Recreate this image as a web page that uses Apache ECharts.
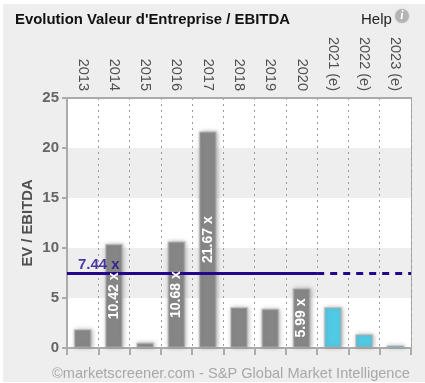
<!DOCTYPE html>
<html><head><meta charset="utf-8">
<style>html,body{margin:0;padding:0;background:#fff}
#bg{position:absolute;left:3px;top:4px;width:422px;height:378px;background:#eeeeee}
#c{position:absolute;left:0;top:0;width:425px;height:383px}</style>
<script src="https://cdn.jsdelivr.net/npm/echarts@6/dist/echarts.min.js"></script>
</head><body><div id="bg"></div><div id="c"></div>
<script>
const categories=['2013','2014','2015','2016','2017','2018','2019','2020','2021 (e)','2022 (e)','2023 (e)'];
const actualValues=[1.9,10.42,0.55,10.68,21.67,4.1,3.95,5.99,null,null,null];
const estimateValues=[null,null,null,null,null,null,null,null,4.1,1.4,0.3];
const labelledFrom=5;
const averageValue=7.44;
const averageSolidSpan=[0,8];
const averageDashedSpan=[8,11];
const FONT='"Liberation Sans",Arial,sans-serif';
const chart=echarts.init(document.getElementById('c'),null,{renderer:'canvas'});
const barStyle=c=>({color:c,borderColor:'rgba(170,170,170,0.45)',borderWidth:2,shadowColor:'rgba(120,120,120,0.6)',shadowBlur:4,shadowOffsetX:1});
const barLabel={show:true,position:'inside',rotate:90,color:'#fff',fontFamily:FONT,fontWeight:'bold',fontSize:14,
  formatter:p=>p.value>=labelledFrom?p.value.toFixed(2)+' x':''};
chart.setOption({
 animation:false,
 backgroundColor:'transparent',
 title:[
  {text:"Evolution Valeur d'Entreprise / EBITDA",left:15,top:12,padding:0,textStyle:{fontFamily:FONT,fontSize:14.9,fontWeight:'bold',color:'#111'}},
  {text:'Help',left:361,top:12,padding:0,textStyle:{fontFamily:FONT,fontSize:15,fontWeight:'normal',color:'#222'}},
  {text:'©marketscreener.com - S&P Global Market Intelligence',left:52,top:366,padding:0,textStyle:{fontFamily:FONT,fontSize:14.6,fontWeight:'normal',color:'#a8a8a8'}}
 ],
 graphic:[
  {type:'circle',shape:{cx:402,cy:16,r:7},style:{fill:'#b4b4b4',shadowColor:'#ccc',shadowBlur:2}},
  {type:'text',style:{x:402,y:16,text:'i',fill:'#fff',font:'italic bold 12px "Liberation Serif",serif',align:'center',verticalAlign:'middle'}}
 ],
 grid:{left:67,right:14,top:98,bottom:35,show:true,borderColor:'#ababab',borderWidth:2,backgroundColor:'transparent'},
 xAxis:[
  {type:'category',data:categories,position:'bottom',boundaryGap:true,
   axisLine:{lineStyle:{color:'#ababab',width:2}},
   axisTick:{show:true,interval:0,alignWithLabel:false,length:7,lineStyle:{color:'#ababab',width:2}},
   axisLabel:{show:false,interval:0},
   splitLine:{show:true,interval:0,lineStyle:{color:'#9a9a9a',type:[2,4],width:1}}},
  {type:'category',data:categories,position:'top',boundaryGap:true,
   axisLine:{show:true,lineStyle:{color:'#ababab',width:2}},axisTick:{show:false},
   axisLabel:{show:true,rotate:90,interval:0,margin:7,color:'#505050',fontFamily:FONT,fontSize:14.5}},
  {type:'value',min:0,max:11,show:false}
 ],
 yAxis:{type:'value',min:0,max:25,interval:5,
  name:'EV / EBITDA',nameLocation:'middle',nameGap:32,nameMoveOverlap:false,
  nameTextStyle:{fontFamily:FONT,fontSize:14.8,fontWeight:'bold',color:'#505050'},
  axisLine:{show:true,lineStyle:{color:'#ababab',width:2}},
  axisTick:{show:true,length:5,lineStyle:{color:'#ababab',width:2}},
  axisLabel:{color:'#666',fontFamily:FONT,fontSize:15,fontWeight:'bold',margin:8},
  splitLine:{show:false},
  splitArea:{show:true,areaStyle:{color:['#ffffff','#eeeeee']}}},
 series:[
  {type:'bar',xAxisIndex:0,data:actualValues,barWidth:18,itemStyle:barStyle('#868686'),z:3},
  {type:'bar',xAxisIndex:0,data:estimateValues,barWidth:18,barGap:'-100%',itemStyle:barStyle('#4fcbe6'),z:3},
  {type:'line',xAxisIndex:2,data:averageSolidSpan.map(x=>[x,averageValue]),symbol:'none',z:4,
   lineStyle:{color:'#22078c',width:3,type:'solid'}},
  {type:'line',xAxisIndex:2,data:averageDashedSpan.map(x=>[x,averageValue]),symbol:'none',z:4,
   lineStyle:{color:'#22078c',width:3,type:[7,6]}},
  {type:'bar',xAxisIndex:0,data:actualValues,barWidth:18,barGap:'-100%',itemStyle:{color:'transparent'},label:barLabel,z:6,silent:true},
  {type:'scatter',xAxisIndex:2,data:[[0,averageValue]],symbolSize:0,z:5,silent:true,
   label:{show:true,position:'right',offset:[6,-9],formatter:p=>p.value[1].toFixed(2)+' x',
    color:'#22078c',fontFamily:FONT,fontWeight:'bold',fontSize:15}}
 ]
});
</script></body></html>
